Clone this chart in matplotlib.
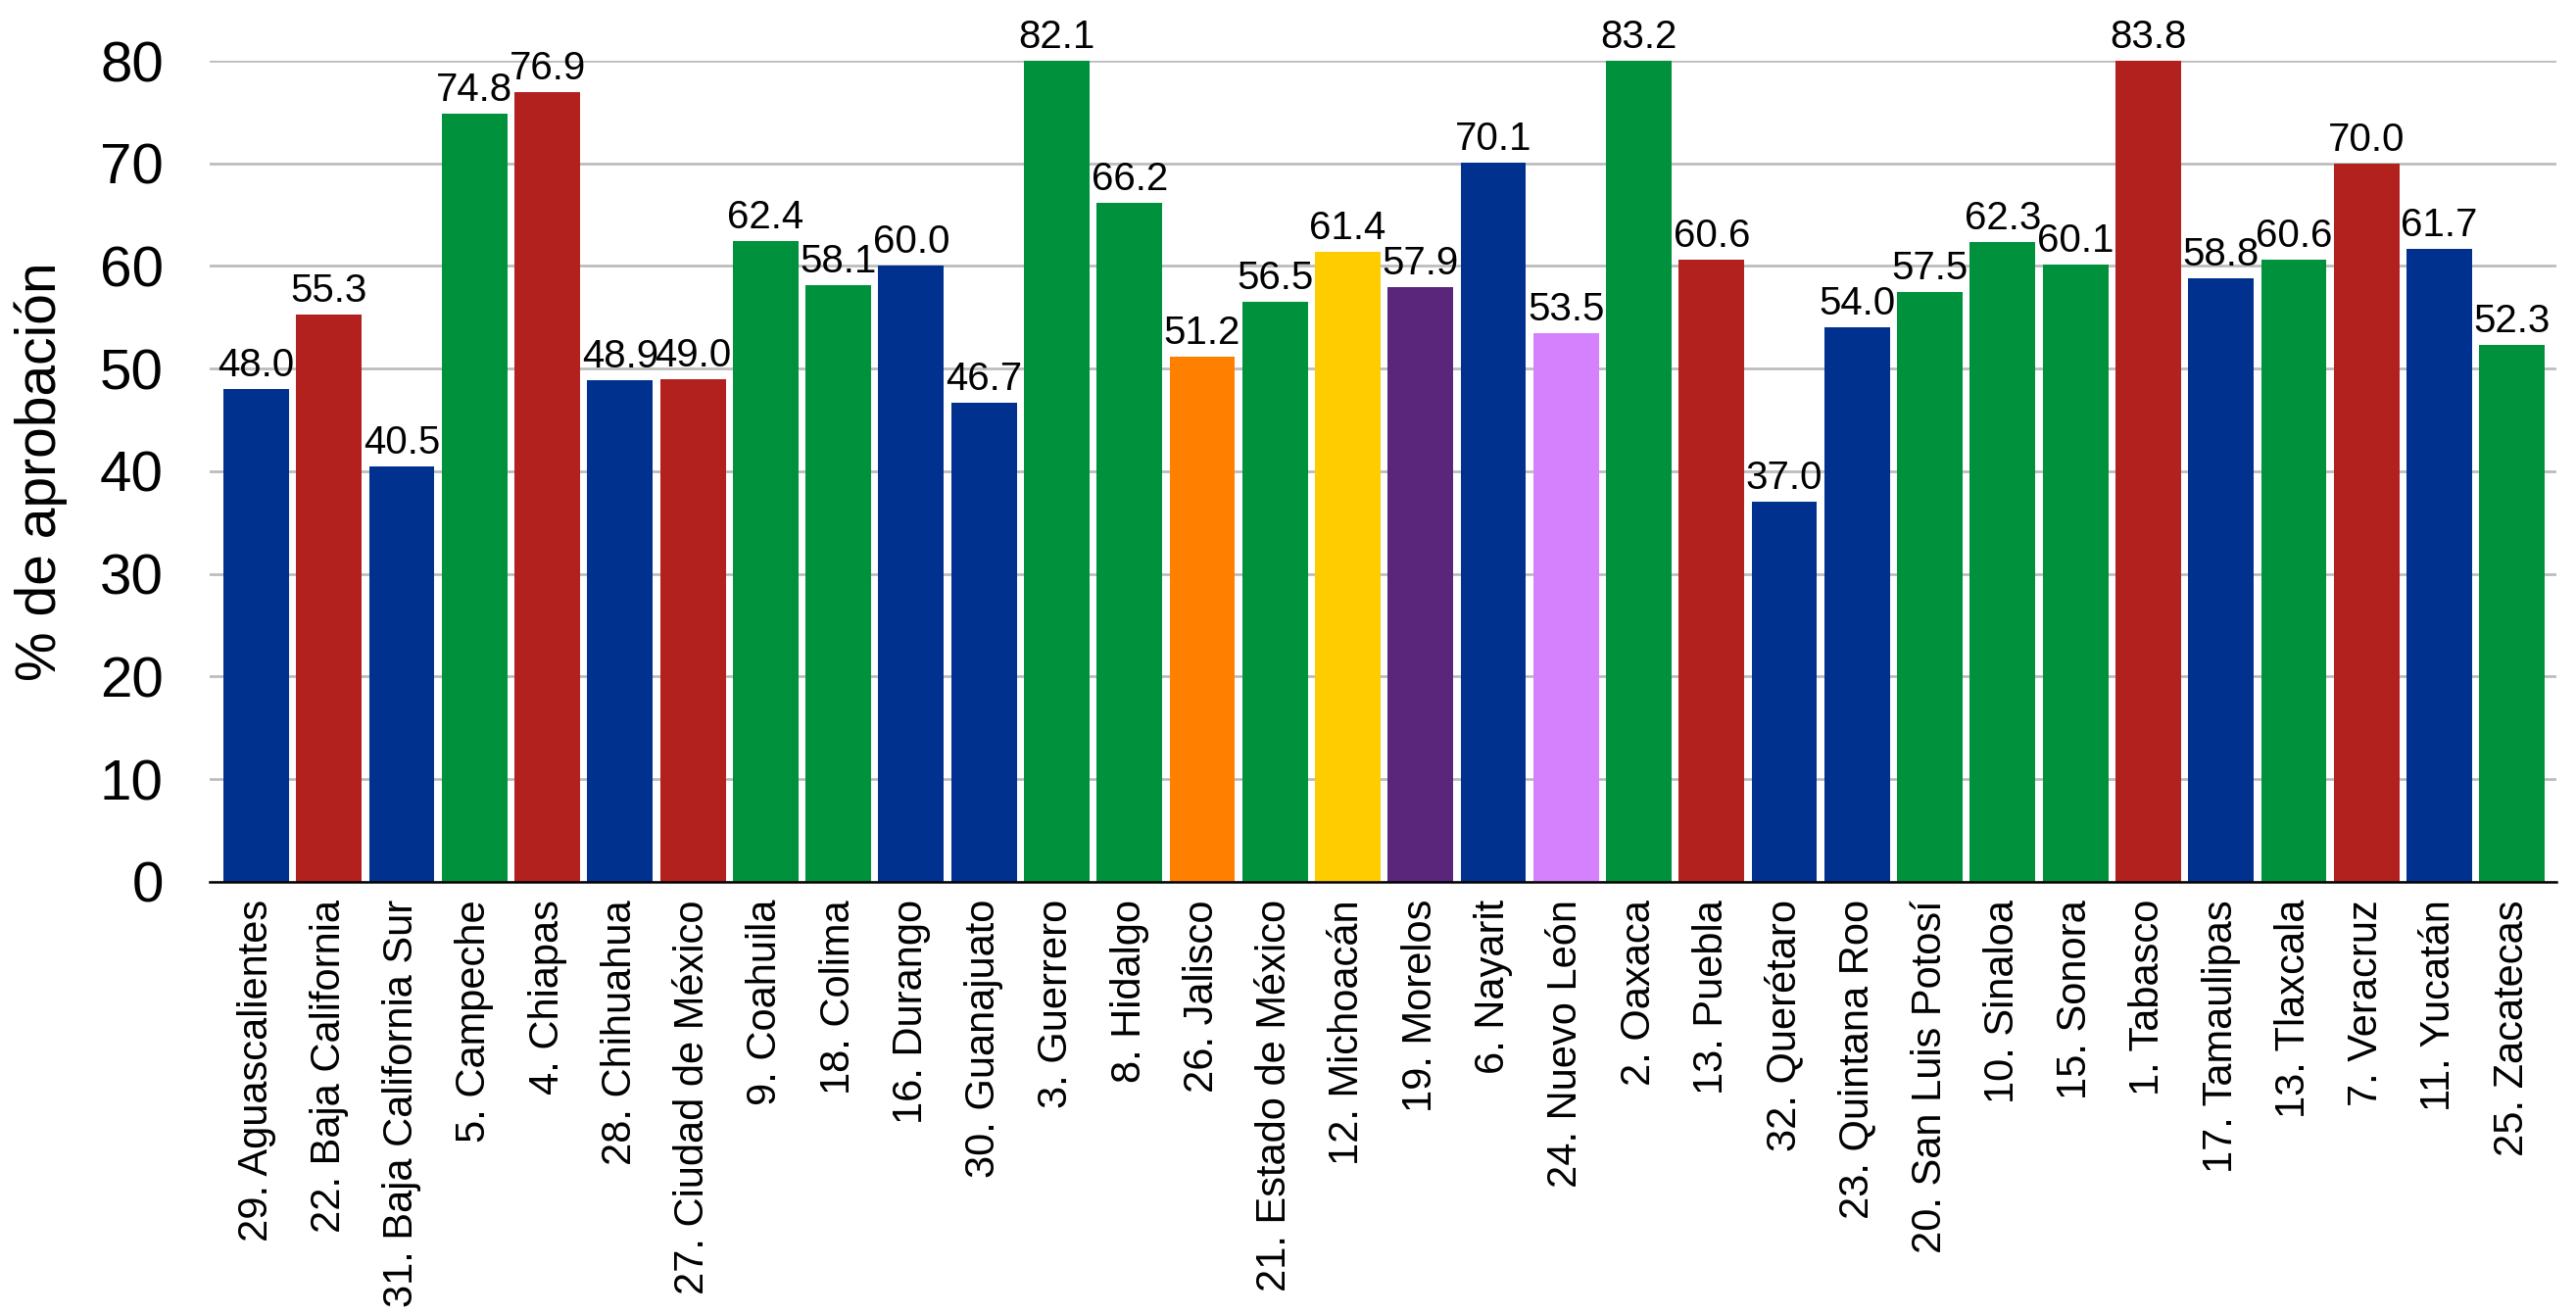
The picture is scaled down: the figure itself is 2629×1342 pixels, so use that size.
#importing necessary libraries
import matplotlib.pyplot as plt

# states in the order they show on the chart
states = [
    "29. Aguascalientes", "22. Baja California", "31. Baja California Sur", "5. Campeche",
    "4. Chiapas", "28. Chihuahua", "27. Ciudad de México", "9. Coahuila", "18. Colima",
    "16. Durango", "30. Guanajuato", "3. Guerrero", "8. Hidalgo", "26. Jalisco",
    "21. Estado de México", "12. Michoacán", "19. Morelos", "6. Nayarit", "24. Nuevo León",
    "2. Oaxaca", "13. Puebla", "32. Querétaro", "23. Quintana Roo", "20. San Luis Potosí",
    "10. Sinaloa", "15. Sonora", "1. Tabasco", "17. Tamaulipas", "13. Tlaxcala",
    "7. Veracruz", "11. Yucatán", "25. Zacatecas",
]

# approval values (%)
approval = [
    48.0, 55.3, 40.5, 74.8, 76.9, 48.9, 49.0, 62.4, 58.1, 60.0, 46.7, 82.1, 66.2, 51.2,
    56.5, 61.4, 57.9, 70.1, 53.5, 83.2, 60.6, 37.0, 54.0, 57.5, 62.3, 60.1, 83.8, 58.8,
    60.6, 70.0, 61.7, 52.3,
]

# party of each governor, used for the bar colour
party = [
    "PAN", "MORENA", "PAN", "PRI", "MORENA", "PAN", "MORENA", "PRI", "PRI", "PAN", "PAN",
    "PRI", "PRI", "MC", "PRI", "PRD", "PES", "PAN", "IND", "PRI", "MORENA", "PAN", "PAN",
    "PRI", "PRI", "PRI", "MORENA", "PAN", "PRI", "MORENA", "PAN", "PRI",
]

party_colors = {
    "PAN": "#00318F",
    "MORENA": "#B3211E",
    "PRI": "#00913C",
    "MC": "#FF8000",
    "PRD": "#FFCC00",
    "PES": "#5A267C",
    "IND": "#D581FD",
}

y_max = 80

plt.rcParams['font.family'] = ['Liberation Sans', 'DejaVu Sans']

fig = plt.figure(figsize=(26.29, 13.42), dpi=100)
ax = fig.add_axes([0.0814, 0.3294, 0.911, 0.6244])

x = list(range(len(states)))
colors = [party_colors[p] for p in party]
ax.bar(x, approval, width=0.9, color=colors, zorder=2)

# value labels, the ones over the top of the axis sit just above it
for i, v in enumerate(approval):
    ax.annotate(f"{v:.1f}", xy=(i, min(v, y_max)), xytext=(0, 3.6),
                textcoords="offset points", ha="center", va="bottom",
                fontsize=29, annotation_clip=False, clip_on=False, zorder=3)

ax.set_ylim(0, y_max)
ax.set_xlim(-0.64, len(states) - 1 + 0.61)
ax.set_yticks(range(0, y_max + 1, 10))
ax.set_xticks(x)
ax.set_xticklabels(states, rotation=90, fontsize=30)
ax.tick_params(axis="y", length=0, pad=34, labelsize=42)
ax.tick_params(axis="x", length=0, pad=13)

# light grey grid, black base line
ax.grid(axis="y", color="#BDBDBD", linewidth=2, zorder=1)
ax.set_axisbelow(True)
for s in ["top", "right", "left"]:
    ax.spines[s].set_visible(False)
ax.spines["bottom"].set_color("black")
ax.spines["bottom"].set_linewidth(1.8)
ax.spines["bottom"].set_zorder(4)

fig.text(0.016, 0.6415, "% de aprobación", rotation=90, ha="center", va="center", fontsize=41)

fig.savefig("out.png", dpi=100)
